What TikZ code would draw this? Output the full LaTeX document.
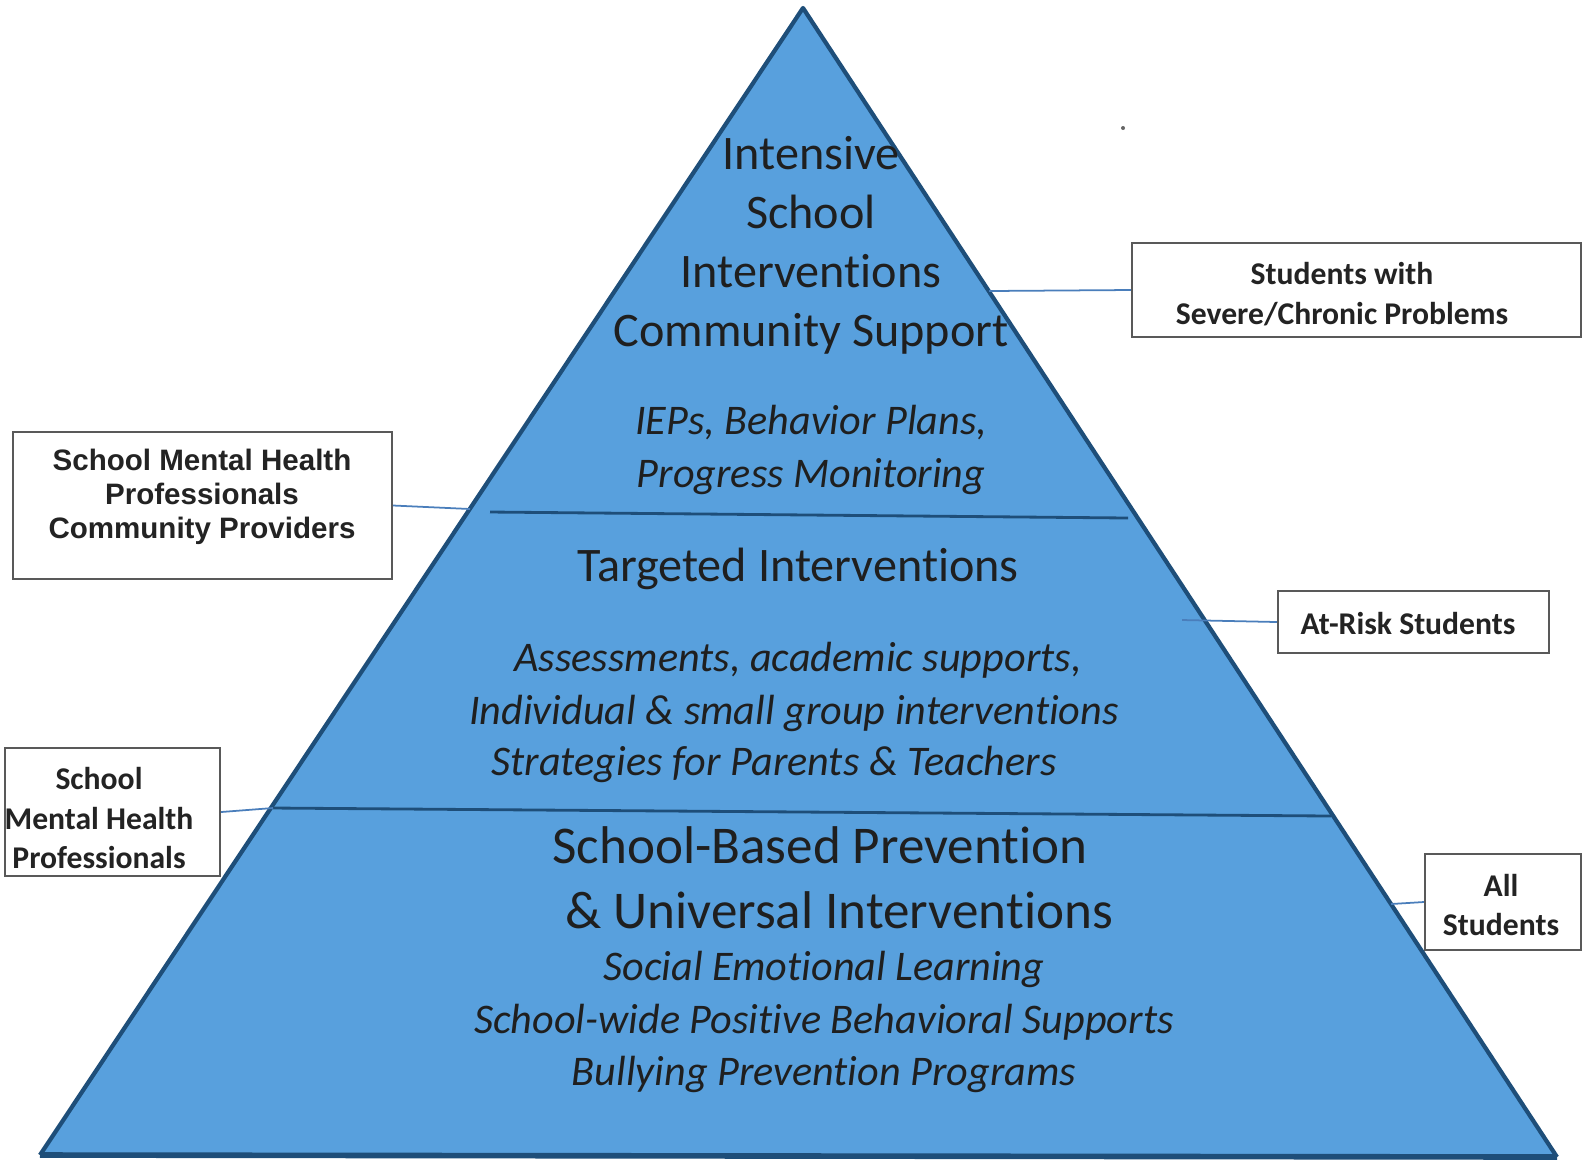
\documentclass[tikz,border=0pt]{standalone}
\usepackage{fontspec}
\setmainfont{Carlito}[Ligatures=NoCommon]
\newfontfamily\arialfont{Liberation Sans}
\usepackage{xcolor}
\definecolor{pyrfill}{RGB}{88,160,221}
\definecolor{pyredge}{RGB}{30,78,121}
\definecolor{linkblue}{RGB}{74,126,187}
\definecolor{boxtext}{RGB}{35,35,35}

\begin{document}
\begin{tikzpicture}[x=0.01cm,y=-0.01cm]
\tikzstyle{tier} =[text=black!88, align=center, inner sep=0pt]
\tikzstyle{head} =[tier, font=\fontsize{13.7}{16.8}\selectfont]
\tikzstyle{big}  =[tier, font=\fontsize{15.1}{18.5}\selectfont]
\tikzstyle{detail}=[tier, font=\fontsize{12}{14.9}\selectfont\itshape]
\tikzstyle{sidebox}=[draw=black!65, line width=0.6pt, fill=white, inner sep=0pt]
\tikzstyle{boxtxt}=[text=boxtext, align=center, inner sep=0pt, font=\fontsize{9}{11.2}\selectfont\bfseries]
\tikzstyle{link} =[linkblue, line width=0.5pt]
\useasboundingbox (0,0) rectangle (1583,1163);

% pyramid
\coordinate (apex) at (803,8);
\coordinate (bl) at (40,1155);
\coordinate (br) at (1557,1157);
\fill[pyrfill] (apex) -- (br) -- (bl) -- cycle;
\draw[pyredge, line width=1.2pt, line join=round] (bl) -- (apex) -- (br);
\draw[pyredge, line width=1.6pt] (bl) -- (br);

% tier dividers
\coordinate (d1l) at (490,512);
\coordinate (d1r) at (1128,518);
\coordinate (d2l) at (273,808);
\coordinate (d2r) at (1331,816);
\draw[pyredge, line width=0.8pt] (d1l) -- (d1r);
\draw[pyredge, line width=0.8pt] (d2l) -- (d2r);

% top tier
\node[head] (top) at (811,245) {Intensive\\School\\Interventions\\Community Support};
\node[detail] (topd) at (811,450) {IEPs, Behavior Plans,\\Progress Monitoring};

% middle tier
\node[head] (mid) at (798,569) {Targeted Interventions};
\node[detail] (midd1) at (798,660) {Assessments, academic supports,};
\node[detail] (midd2) at (794,713) {Individual \& small group interventions};
\node[detail] (midd3) at (774,764) {Strategies for Parents \& Teachers};

% bottom tier
\node[big] (bot1) at (820,845) {School-Based Prevention};
\node[big] (bot2) at (839,910) {\& Universal Interventions};
\node[detail] (botd) at (824,1022) {Social Emotional Learning\\School-wide Positive Behavioral Supports\\Bullying Prevention Programs};

% side boxes
\node[sidebox, minimum width=4.49cm, minimum height=0.94cm] (severe) at (1356.5,290) {};
\node[boxtxt] (severet) at (1342,294) {Students with\\Severe/Chronic Problems};

\node[sidebox, minimum width=3.79cm, minimum height=1.47cm] (provid) at (202.5,505.5) {};
\node[boxtxt, font=\arialfont\fontsize{8.4}{9.7}\selectfont\bfseries] (providt) at (202,497) {School Mental Health\\Professionals\\Community Providers};

\node[sidebox, minimum width=2.15cm, minimum height=1.28cm] (smhp) at (112.5,812) {};
\node[boxtxt] (smhpt) at (99,818) {School\\Mental Health\\Professionals};

\node[sidebox, minimum width=2.71cm, minimum height=0.62cm] (atrisk) at (1413.5,622) {};
\node[boxtxt] (atriskt) at (1408,623) {At-Risk Students};

\node[sidebox, minimum width=1.56cm, minimum height=0.96cm] (all) at (1503,902) {};
\node[boxtxt] (allt) at (1501,905) {All\\Students};

% connectors
\coordinate (e1) at (989,291);
\coordinate (e2) at (470,509);
\coordinate (e3) at (273,808);
\coordinate (e4) at (1182,620);
\coordinate (e5) at (1391,904);
\draw[link] (e1) -- (severe.west);
\draw[link] (provid.east) -- (e2);
\draw[link] (smhp.east) -- (e3);
\draw[link] (e4) -- (atrisk.west);
\draw[link] (e5) -- (all.west);

\fill[black!60] (1123,128) circle (0.02cm);
\end{tikzpicture}
\end{document}
